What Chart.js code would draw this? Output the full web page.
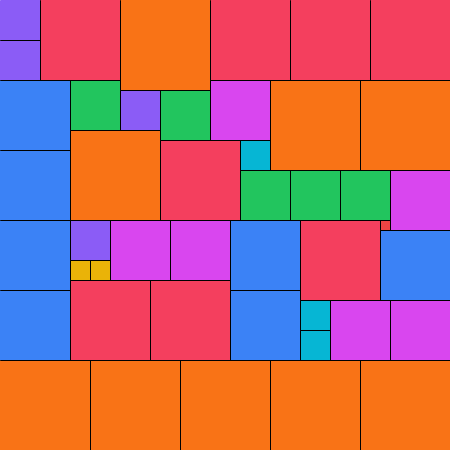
<!DOCTYPE html>
<html>
<head>
<meta charset="utf-8">
<script src="https://cdn.jsdelivr.net/npm/chart.js@4/dist/chart.umd.min.js"></script>
<style>
html,body{margin:0;padding:0;background:#fff;}
#c{display:block;}
</style>
</head>
<body>
<canvas id="c" width="450" height="450"></canvas>
<script>
// Partridge tiling: squares of side k appear k times (k = 1..9), grid side 45
const sizes   = [9, 8, 7, 6, 5, 4, 3, 2, 1];
const colours = ['#f97316', '#f43f5e', '#3b82f6', '#d946ef', '#22c55e', '#8b5cf6', '#06b6d4', '#eab308', '#ef4444'];
// top-left corners [x, y] of each square, grouped by size
const corners9 = [[12,0],[27,8],[36,8],[7,13],[0,36],[9,36],[18,36],[27,36],[36,36]];
const corners8 = [[4,0],[21,0],[29,0],[37,0],[16,14],[30,22],[7,28],[15,28]];
const corners7 = [[0,8],[0,15],[0,22],[0,29],[23,22],[23,29],[38,23]];
const corners6 = [[21,8],[39,17],[11,22],[17,22],[33,30],[39,30]];
const corners5 = [[7,8],[16,9],[24,17],[29,17],[34,17]];
const corners4 = [[0,0],[0,4],[12,9],[7,22]];
const corners3 = [[24,14],[30,30],[30,33]];
const corners2 = [[7,26],[9,26]];
const corners1 = [[38,22]];
const side = 45;

const groups = [corners9, corners8, corners7, corners6, corners5, corners4, corners3, corners2, corners1];

const fills = [];
const edges = [];
groups.forEach((list, gi) => {
  const s = sizes[gi];
  const col = colours[gi];
  list.forEach(([x, y]) => {
    fills.push({
      data: [
        {x: x,     y: y},
        {x: x + s, y: y},
        {x: x + s, y: y + s},
        {x: x,     y: y + s},
        {x: x,     y: y}
      ],
      order: 2,
      showLine: true,
      fill: 'shape',
      backgroundColor: col,
      borderColor: col,
      borderWidth: 1,
      pointRadius: 0,
      pointHoverRadius: 0,
      tension: 0
    });
    // dividing lines: left and top edge of every cell (outer frame excluded)
    const pts = [];
    if (x > 0) pts.push({x: x, y: y + s});
    if (x > 0 || y > 0) pts.push({x: x, y: y});
    if (y > 0) pts.push({x: x + s, y: y});
    if (pts.length > 1) {
      edges.push({
        data: pts,
        order: 1,
        showLine: true,
        fill: false,
        borderColor: '#000',
        borderWidth: 1,
        borderCapStyle: 'square',
        borderJoinStyle: 'miter',
        pointRadius: 0,
        pointHoverRadius: 0,
        tension: 0
      });
    }
  });
});

new Chart(document.getElementById('c'), {
  type: 'scatter',
  data: { datasets: edges.concat(fills) },
  options: {
    responsive: false,
    animation: false,
    devicePixelRatio: 1,
    layout: { padding: 0 },
    plugins: { legend: { display: false }, tooltip: { enabled: false } },
    events: [],
    scales: {
      x: { type: 'linear', min: -0.05, max: side - 0.05, display: false },
      y: { type: 'linear', min: -0.05, max: side - 0.05, reverse: true, display: false }
    }
  }
});
</script>
</body>
</html>
